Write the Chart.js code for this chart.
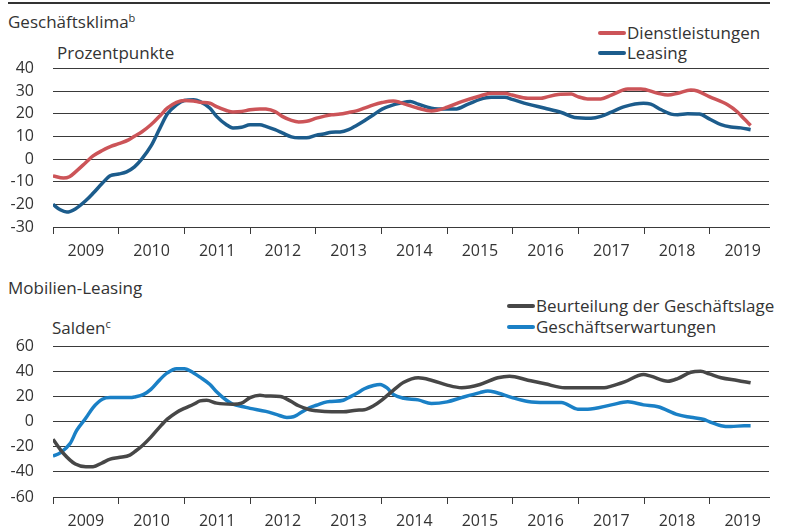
<!DOCTYPE html>
<html lang="de">
<head>
<meta charset="UTF-8">
<title>Geschäftsklima Leasing</title>
<script src="https://cdn.jsdelivr.net/npm/chart.js"></script>
<style>
  body { margin: 0; width: 789px; height: 532px; position: relative; background: #fff; overflow: hidden;
         font-family: "Open Sans", sans-serif; color: #333; }
  .t { position: absolute; font-size: 17px; line-height: 18px; white-space: nowrap; }
  .t sup { font-size: 11px; vertical-align: 6px; line-height: 0; }
  .rule { position: absolute; left: 8px; top: 2px; width: 762px; height: 2px; background: #333; }
  canvas { position: absolute; left: 0; }
  .sw { display: inline-block; width: 28px; height: 4px; border-radius: 2px; vertical-align: 4px; margin-right: 1px; }
</style>
</head>
<body>
<div class="rule"></div>
<div class="t" style="left:8px;top:13px">Geschäftsklima<sup>b</sup></div>
<div class="t" style="left:57px;top:44px">Prozentpunkte</div>
<div class="t" style="left:598px;top:24px"><span class="sw" style="background:#cc5458"></span>Dienstleistungen</div>
<div class="t" style="left:598px;top:44px"><span class="sw" style="background:#1c5c8c"></span>Leasing</div>

<div class="t" style="left:8px;top:279px">Mobilien-Leasing</div>
<div class="t" style="left:52px;top:319px">Salden<sup>c</sup></div>
<div class="t" style="left:507px;top:297px"><span class="sw" style="background:#474747"></span>Beurteilung der Geschäftslage</div>
<div class="t" style="left:507px;top:318px"><span class="sw" style="background:#1a80c6"></span>Geschäftserwartungen</div>

<canvas id="topChart" width="789" height="227" style="top:40px"></canvas>
<canvas id="bottomChart" width="789" height="214" style="top:318px"></canvas>

<script>
  const yearLabels = ['2009', '2010', '2011', '2012', '2013', '2014', '2015', '2016', '2017', '2018', '2019'];

  // Geschäftsklima: Dienstleistungen
  const dlT = [2009.00, 2009.16, 2009.25, 2009.36, 2009.50, 2009.61, 2009.75, 2009.89, 2010.00, 2010.15, 2010.24,
    2010.35, 2010.49, 2010.63, 2010.74, 2010.88, 2011.00, 2011.14, 2011.24, 2011.39, 2011.49, 2011.64, 2011.74,
    2011.87, 2012.00, 2012.15, 2012.24, 2012.38, 2012.49, 2012.63, 2012.74, 2012.86, 2013.01, 2013.12, 2013.24,
    2013.37, 2013.50, 2013.62, 2013.74, 2013.88, 2014.01, 2014.18, 2014.28, 2014.36, 2014.56, 2014.76, 2015.00,
    2015.22, 2015.50, 2015.67, 2015.88, 2015.99, 2016.23, 2016.43, 2016.49, 2016.69, 2016.89, 2016.99, 2017.14,
    2017.34, 2017.50, 2017.75, 2017.95, 2018.21, 2018.36, 2018.51, 2018.71, 2018.81, 2018.99, 2019.27, 2019.42,
    2019.52, 2019.62];
  const dlV = [-7.4, -8.4, -7.8, -5.2, -1.5, 1.4, 3.8, 5.7, 6.8, 8.5, 10.1,
    12, 15.2, 19.2, 22.5, 25.1, 25.9, 25.7, 25.1, 24.7, 23.2, 21.5, 20.8,
    21, 21.8, 22.2, 22.1, 21, 18.9, 17.1, 16.4, 16.7, 18.1, 18.9, 19.6,
    19.9, 20.6, 21.3, 22.5, 24, 25, 25.7, 25.1, 24.3, 22.5, 21.3, 22.9,
    25.4, 27.9, 29.1, 29.1, 28.3, 26.9, 26.9, 27.2, 28.6, 28.8, 27.6, 26.6,
    26.6, 28.3, 31, 31, 29.1, 28.3, 29.1, 30.5, 30.1, 27.6, 24, 20.8,
    17.8, 14.9];

  // Geschäftsklima: Leasing
  const leT = [2009.00, 2009.11, 2009.21, 2009.34, 2009.50, 2009.61, 2009.75, 2009.87, 2010.00, 2010.12, 2010.24,
    2010.35, 2010.49, 2010.63, 2010.74, 2010.88, 2011.00, 2011.14, 2011.24, 2011.39, 2011.49, 2011.64, 2011.74,
    2011.87, 2012.00, 2012.15, 2012.24, 2012.38, 2012.49, 2012.63, 2012.74, 2012.86, 2013.01, 2013.12, 2013.24,
    2013.37, 2013.50, 2013.62, 2013.74, 2013.88, 2014.01, 2014.18, 2014.28, 2014.44, 2014.56, 2014.76, 2015.00,
    2015.12, 2015.32, 2015.50, 2015.67, 2015.88, 2015.99, 2016.23, 2016.49, 2016.74, 2016.94, 2017.19, 2017.34,
    2017.50, 2017.70, 2017.99, 2018.10, 2018.26, 2018.41, 2018.51, 2018.66, 2018.84, 2018.99, 2019.17, 2019.32,
    2019.47, 2019.62];
  const leV = [-20, -22.4, -23.4, -22, -18.3, -15.1, -10.7, -7.4, -6.6, -5.6, -3.4,
    0, 5.7, 13.8, 19.9, 24, 25.9, 26.2, 25.4, 22.5, 18.9, 15.2, 13.8,
    14.1, 15.2, 15.2, 14.5, 13, 11.6, 9.8, 9.4, 9.4, 10.6, 11.1, 11.9,
    12, 13, 14.9, 17, 19.6, 22.1, 24, 24.7, 25.5, 24.3, 22.5, 22.1,
    22.1, 24.3, 26.4, 27.3, 27.3, 26.4, 24.3, 22.5, 20.6, 18.4, 18.1, 18.9,
    20.8, 23.2, 24.7, 24.3, 21.8, 19.9, 19.6, 20, 19.9, 17.8, 15.2, 14.2,
    13.8, 13];

  // Mobilien-Leasing: Beurteilung der Geschäftslage
  const glT = [2009.00, 2009.16, 2009.34, 2009.50, 2009.61, 2009.75, 2009.87, 2010.00, 2010.17, 2010.24, 2010.35,
    2010.49, 2010.63, 2010.74, 2010.88, 2011.00, 2011.14, 2011.24, 2011.34, 2011.49, 2011.74, 2011.87, 2012.00,
    2012.15, 2012.24, 2012.46, 2012.61, 2012.74, 2012.91, 2013.01, 2013.24, 2013.42, 2013.62, 2013.74, 2013.88,
    2014.01, 2014.18, 2014.34, 2014.56, 2014.76, 2015.00, 2015.22, 2015.50, 2015.77, 2015.95, 2016.23, 2016.49,
    2016.79, 2016.99, 2017.39, 2017.50, 2017.70, 2017.99, 2018.10, 2018.36, 2018.51, 2018.71, 2018.86, 2018.99,
    2019.17, 2019.42, 2019.62];
  const glV = [-14, -25.3, -33.7, -35.8, -35.8, -32.7, -29.8, -28.5, -26.6, -24, -19.5,
    -12.2, -3.8, 2.1, 7.5, 10.7, 14, 16.7, 17.2, 14.9, 14, 14.9, 19.3,
    21.2, 20.6, 20.1, 16.7, 12.8, 9.6, 8.8, 8, 8, 9.3, 9.6, 12.8,
    17.5, 25.1, 31.5, 35.1, 33.2, 29.3, 27.2, 29.8, 35.1, 36.4, 33.2, 30.3,
    27.2, 27.2, 27.2, 28.5, 31.9, 37.7, 36.4, 32.4, 34.5, 39.5, 40.3, 38.2,
    35.1, 33, 31.1];

  // Mobilien-Leasing: Geschäftserwartungen
  const geT = [2009.00, 2009.11, 2009.26, 2009.36, 2009.50, 2009.61, 2009.75, 2009.87, 2010.00, 2010.17, 2010.24,
    2010.38, 2010.49, 2010.63, 2010.74, 2010.88, 2011.00, 2011.14, 2011.24, 2011.39, 2011.49, 2011.64, 2011.74,
    2011.90, 2012.00, 2012.24, 2012.41, 2012.56, 2012.66, 2012.74, 2012.91, 2013.01, 2013.17, 2013.24, 2013.42,
    2013.50, 2013.62, 2013.74, 2013.88, 2013.98, 2014.08, 2014.18, 2014.34, 2014.56, 2014.76, 2015.00, 2015.22,
    2015.50, 2015.62, 2015.72, 2015.99, 2016.23, 2016.49, 2016.74, 2016.99, 2017.14, 2017.50, 2017.75, 2017.99,
    2018.21, 2018.51, 2018.71, 2018.91, 2018.99, 2019.17, 2019.32, 2019.52, 2019.62];
  const geV = [-27.4, -24.8, -17.4, -6.9, 3, 11.4, 18, 19.3, 19.3, 19.3, 19.8,
    21.9, 25.9, 33.8, 39, 42.4, 42.4, 39, 35.6, 29.8, 24, 17.2, 14,
    12, 10.7, 8.3, 5.7, 3.5, 4, 6.2, 11.4, 13.2, 15.9, 16.2, 17.2,
    19.3, 22.5, 26.4, 29, 29.8, 27.2, 21.9, 18.8, 17.5, 14.6, 15.9, 19.3,
    23.3, 24.6, 23.8, 19.3, 16.2, 15.4, 15.4, 10.1, 10.1, 13.5, 15.9, 13.5,
    12, 5.7, 3.6, 1.8, 0.1, -3.1, -3.8, -3.1, -3.1];

  Chart.defaults.font.family = '"Open Sans", sans-serif';
  Chart.defaults.font.size = 16;
  Chart.defaults.color = '#333';

  const gridColor = '#3a3a3a';
  const firstYear = Number(yearLabels[0]);

  function series(ts, vs) {
    return ts.map((t, i) => ({ x: t, y: vs[i] }));
  }

  function line(label, ts, vs, color) {
    return {
      label: label,
      data: series(ts, vs),
      borderColor: color,
      borderWidth: 3.5,
      pointRadius: 0,
      fill: false,
      cubicInterpolationMode: 'monotone'
    };
  }

  function makeChart(id, datasets, yMin, yMax, yStep, xHeight, xPad) {
    return new Chart(document.getElementById(id), {
      type: 'line',
      data: { datasets: datasets },
      options: {
        responsive: false,
        animation: false,
        layout: { padding: { top: 10, right: 20, left: 0, bottom: 0 } },
        plugins: { legend: { display: false }, tooltip: { enabled: false } },
        scales: {
          x: {
            type: 'linear',
            min: firstYear,
            max: firstYear + 10.9,
            afterBuildTicks: scale => {
              const ticks = [];
              yearLabels.forEach((y, i) => {
                ticks.push({ value: firstYear + i });
                ticks.push({ value: firstYear + i + 0.5 });
              });
              scale.ticks = ticks;
            },
            afterFit: scale => { scale.height = xHeight; },
            ticks: {
              autoSkip: false,
              maxRotation: 0,
              minRotation: 0,
              padding: xPad,
              callback: value => Number.isInteger(value) ? '' : yearLabels[Math.floor(value) - firstYear]
            },
            grid: {
              drawOnChartArea: false,
              tickLength: 7,
              tickWidth: 1,
              tickColor: ctx => (ctx.tick && Number.isInteger(ctx.tick.value)) ? gridColor : 'rgba(0,0,0,0)'
            },
            border: { display: true, color: gridColor, width: 1 }
          },
          y: {
            min: yMin,
            max: yMax,
            afterFit: scale => { scale.width = 53; },
            ticks: { stepSize: yStep, padding: 19, autoSkip: false },
            grid: { color: gridColor, lineWidth: 1, drawTicks: false },
            border: { display: false }
          }
        }
      }
    });
  }

  makeChart('topChart', [
    line('Dienstleistungen', dlT, dlV, '#cc5458'),
    line('Leasing', leT, leV, '#1c5c8c')
  ], -30, 40, 10, 40, 8);

  makeChart('bottomChart', [
    line('Beurteilung der Geschäftslage', glT, glV, '#474747'),
    line('Geschäftserwartungen', geT, geV, '#1a80c6')
  ], -60, 60, 20, 35, 8);
</script>
</body>
</html>
